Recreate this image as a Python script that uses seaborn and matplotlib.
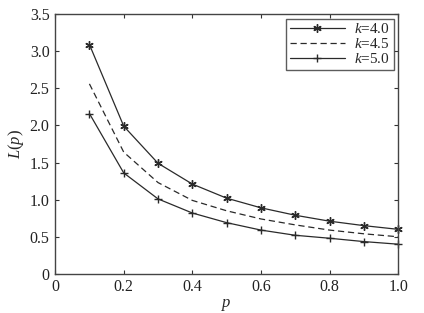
import pandas as pd
import matplotlib
matplotlib.use('Agg')
import matplotlib.pyplot as plt
import seaborn as sns

# 数据
p_values = [0.1, 0.2, 0.3, 0.4, 0.5, 0.6, 0.7, 0.8, 0.9, 1.0]
L_k40 = [3.09, 1.99, 1.49, 1.21, 1.02, 0.89, 0.79, 0.71, 0.65, 0.60]
L_k45 = [2.56, 1.64, 1.23, 0.99, 0.85, 0.74, 0.66, 0.59, 0.54, 0.50]
L_k50 = [2.16, 1.36, 1.01, 0.82, 0.69, 0.59, 0.52, 0.48, 0.435, 0.40]
k_labels = ['$k$=4.0', '$k$=4.5', '$k$=5.0']

df = pd.DataFrame({
    'p': p_values * 3,
    'L': L_k40 + L_k45 + L_k50,
    'k': [k_labels[0]] * 10 + [k_labels[1]] * 10 + [k_labels[2]] * 10,
})

sns.set_style("ticks")
plt.rcParams['font.family'] = ['Liberation Serif', 'DejaVu Serif']
plt.rcParams['mathtext.fontset'] = 'custom'
plt.rcParams['mathtext.it'] = 'Liberation Serif:italic'
plt.rcParams['mathtext.rm'] = 'Liberation Serif'
plt.rcParams['xtick.direction'] = 'in'
plt.rcParams['ytick.direction'] = 'in'

fig = plt.figure(figsize=(4.24, 3.13), dpi=100)
ax = fig.add_axes([0.13, 0.125, 0.809, 0.83])

line_color = '#2a2a2a'
sns.lineplot(data=df, x='p', y='L', hue='k', style='k',
             palette=[line_color] * 3,
             dashes=[(None, None), (5, 3), (None, None)],
             markers=[(6, 2, 0), '', '+'],
             markersize=6, markeredgewidth=1.0, markeredgecolor=line_color,
             linewidth=0.9, ax=ax, clip_on=False)

# 设置坐标轴
ax.set_xlim(0, 1.0)
ax.set_ylim(0, 3.5)
ax.set_xticks([0, 0.2, 0.4, 0.6, 0.8, 1.0])
ax.set_xticklabels(['0', '0.2', '0.4', '0.6', '0.8', '1.0'])
ax.set_yticks([0, 0.5, 1.0, 1.5, 2.0, 2.5, 3.0, 3.5])
ax.set_yticklabels(['0', '0.5', '1.0', '1.5', '2.0', '2.5', '3.0', '3.5'])
ax.tick_params(top=True, right=True, labelsize=11.5, length=3, width=0.8,
               colors='#333333', labelcolor='#222222', pad=4)
for s in ax.spines.values():
    s.set_color('#444444')
    s.set_linewidth(1.0)

ax.set_xlabel('$p$', fontsize=12, labelpad=1)
ax.set_ylabel('$L(p)$', fontsize=12, labelpad=3)

leg = ax.legend(loc='upper right', fontsize=11, frameon=True, fancybox=False,
                borderaxespad=0.3, handlelength=3.6, labelspacing=0.05,
                borderpad=0.25, handletextpad=0.6)
leg.get_frame().set_edgecolor('#333333')
leg.get_frame().set_linewidth(1.0)

fig.savefig('out.png', dpi=100)
